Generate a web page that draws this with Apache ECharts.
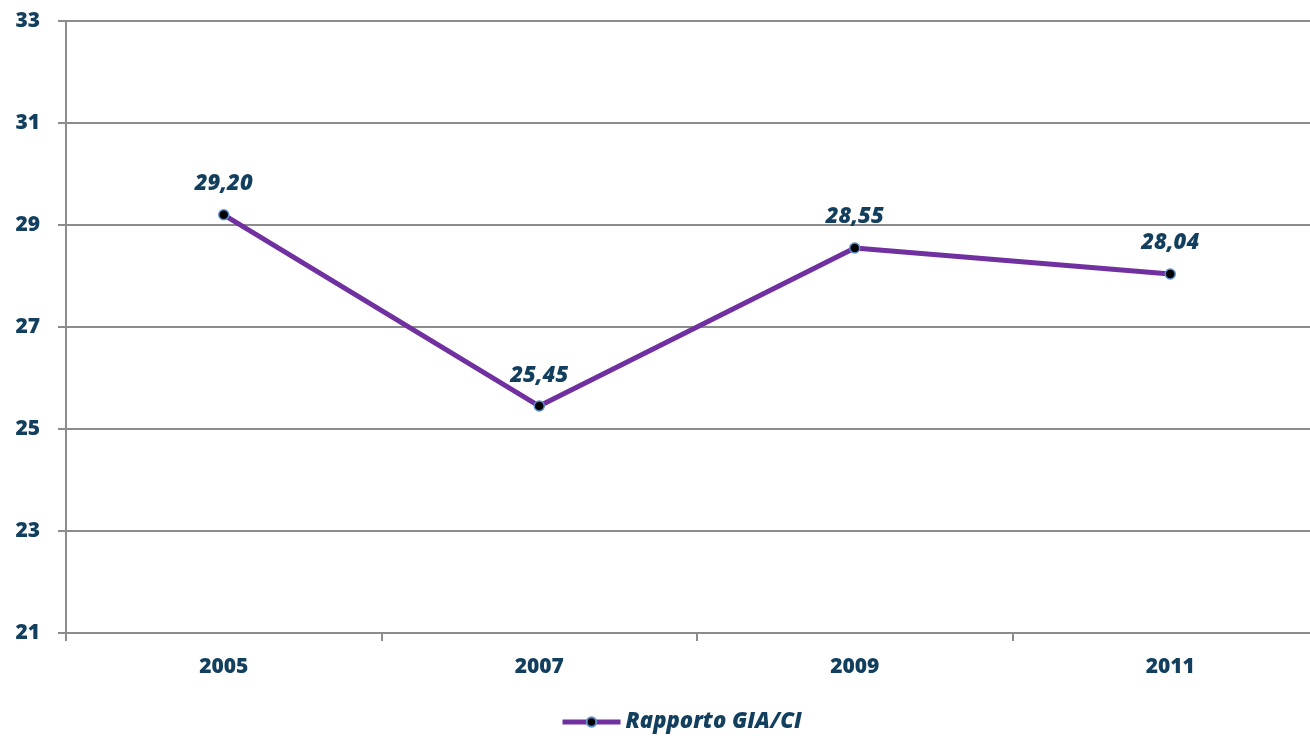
<!DOCTYPE html>
<html><head><meta charset="utf-8">
<script src="https://cdn.jsdelivr.net/npm/echarts@6/dist/echarts.min.js"></script>
<style>html,body{margin:0;padding:0;background:#fff;overflow:hidden;width:1310px;height:738px}#c{width:1328px;height:738px}</style>
</head><body><div id="c"></div>
<script>
const categories = ['2005', '2007', '2009', '2011'];
const seriesName = 'Rapporto GIA/CI';
const values = [29.20, 25.45, 28.55, 28.04];
const yMin = 21, yMax = 33, yStep = 2;

const txt = '#123f5e';
const font = '"Open Sans", "Liberation Sans", sans-serif';
const fw = 800;
const chart = echarts.init(document.getElementById('c'));
chart.setOption({
  animation: false,
  grid: { left: 66, top: 21, bottom: 105, right: 0, containLabel: false },
  legend: {
    bottom: 0, left: 555, itemWidth: 58, itemHeight: 12, itemGap: 4,
    data: [seriesName],
    lineStyle: { width: 5 },
    textStyle: { color: txt, fontFamily: font, fontSize: 22, fontWeight: fw, fontStyle: 'italic' }
  },
  xAxis: {
    type: 'category', data: categories, boundaryGap: true,
    axisLine: { lineStyle: { color: '#8c8c8c', width: 2 } },
    axisTick: { show: true, length: 8, inside: false, lineStyle: { color: '#8c8c8c', width: 2 } },
    axisLabel: { color: txt, fontFamily: font, fontSize: 21, fontWeight: fw, margin: 24 }
  },
  yAxis: {
    type: 'value', min: yMin, max: yMax, interval: yStep,
    axisLine: { show: true, lineStyle: { color: '#8c8c8c', width: 2 } },
    axisTick: { show: true, length: 8, lineStyle: { color: '#8c8c8c', width: 2 } },
    axisLabel: { color: txt, fontFamily: font, fontSize: 21, fontWeight: fw, margin: 26 },
    splitLine: { show: true, lineStyle: { color: '#8c8c8c', width: 2 } }
  },
  series: [{
    name: seriesName, type: 'line', data: values,
    lineStyle: { color: '#7030a0', width: 5 },
    itemStyle: { color: '#000', borderColor: '#5b8fd0', borderWidth: 1.5 },
    symbol: 'circle', symbolSize: 10,
    label: {
      show: true, position: 'top', distance: 14,
      formatter: p => p.value.toFixed(2).replace('.', ','),
      color: txt, fontFamily: font, fontSize: 22, fontWeight: fw, fontStyle: 'italic'
    }
  }]
});
</script></body></html>
